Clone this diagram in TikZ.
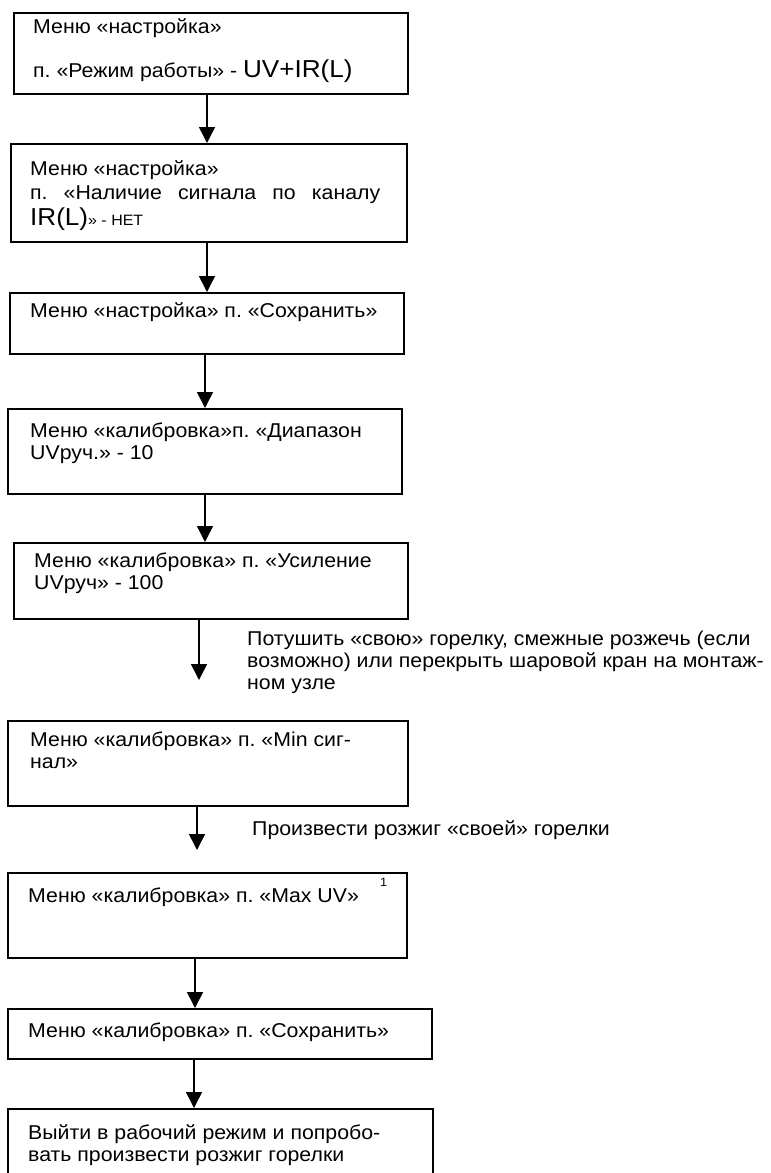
\documentclass[tikz,border=0pt]{standalone}
\usepackage{fontspec}
\setmainfont{Liberation Sans}[FakeStretch=1.065]
\usetikzlibrary{arrows.meta}
\newcommand{\fsn}{\fontsize{20}{22}\selectfont}
\newcommand{\fsbig}{\fontsize{24.5}{27}\selectfont}
\newcommand{\fssmall}{\fontsize{15}{16}\selectfont}
\newcommand{\fstiny}{\fontsize{12}{12}\selectfont}
\frenchspacing
\begin{document}
\begin{tikzpicture}[x=1pt,y=-1pt,
  box/.style={draw, line width=1.5pt, inner sep=0pt, anchor=north west},
  txt/.style={anchor=base west, inner sep=0pt, font=\fsn},
  arr/.style={-{Triangle[length=16pt,width=16pt]}, line width=1.5pt}]
\clip (0,0) rectangle (771,1173);
\fill[white] (0,0) rectangle (771,1173);
% boxes
\node[box, minimum width=394pt, minimum height=81pt] (b1) at (13,12) {};
\node[box, minimum width=396pt, minimum height=98pt] (b2) at (10,143) {};
\node[box, minimum width=394pt, minimum height=61pt] (b3) at (9,292) {};
\node[box, minimum width=394pt, minimum height=85pt] (b4) at (7,408) {};
\node[box, minimum width=394pt, minimum height=76pt] (b5) at (13,542) {};
\node[box, minimum width=400pt, minimum height=85pt] (b6) at (7,720) {};
\node[box, minimum width=399pt, minimum height=85pt] (b7) at (7,872) {};
\node[box, minimum width=424pt, minimum height=50pt] (b8) at (7,1008) {};
\node[box, minimum width=425pt, minimum height=90pt] (b9) at (7,1108) {};
% texts
\node[txt] (t1a) at (33,33) {Меню «настройка»};
\node[txt] (t1b) at (33,77) {п. «Режим работы» - {\fsbig UV+IR(L)}};
\node[txt] (t2a) at (30,175) {Меню «настройка»};
\node[txt] (t2b) at (30,199) {\makebox[350pt][s]{п. «Наличие сигнала по каналу}};
\node[txt] (t2c) at (30,225) {{\fsbig IR(L)}{\fssmall» - НЕТ}};
\node[txt] (t3) at (30,317) {Меню «настройка» п. «Сохранить»};
\node[txt] (t4a) at (30,437) {Меню «калибровка»п. «Диапазон};
\node[txt] (t4b) at (30,459) {UVруч.» - 10};
\node[txt] (t5a) at (34,567) {Меню «калибровка» п. «Усиление};
\node[txt] (t5b) at (34,589) {UVруч» - 100};
\node[txt] (l1a) at (247,645) {Потушить «свою» горелку, смежные розжечь (если};
\node[txt] (l1b) at (247,667) {возможно) или перекрыть шаровой кран на монтаж-};
\node[txt] (l1c) at (247,689) {ном узле};
\node[txt] (t6a) at (30,746) {Меню «калибровка» п. «Min сиг-};
\node[txt] (t6b) at (30,768) {нал»};
\node[txt] (l2) at (252,835) {Произвести розжиг «своей» горелки};
\node[txt] (t7) at (28,902) {Меню «калибровка» п. «Max UV»};
\node[txt, font=\fstiny] (s7) at (380,886) {1};
\node[txt] (t8) at (28,1037) {Меню «калибровка» п. «Сохранить»};
\node[txt] (t9a) at (28,1139) {Выйти в рабочий режим и попробо-};
\node[txt] (t9b) at (28,1161) {вать произвести розжиг горелки};
% arrow columns
\coordinate (c1) at (207,0);
\coordinate (c2) at (207,0);
\coordinate (c3) at (205,0);
\coordinate (c4) at (205,0);
\coordinate (e5) at (199,680);
\coordinate (e6) at (197,850);
\coordinate (c7) at (195,0);
\coordinate (c8) at (194,0);
\draw[arr] (b1.south -| c1) -- (b2.north -| c1);
\draw[arr] (b2.south -| c2) -- (b3.north -| c2);
\draw[arr] (b3.south -| c3) -- (b4.north -| c3);
\draw[arr] (b4.south -| c4) -- (b5.north -| c4);
\draw[arr] (b5.south -| e5) -- (e5);
\draw[arr] (b6.south -| e6) -- (e6);
\draw[arr] (b7.south -| c7) -- (b8.north -| c7);
\draw[arr] (b8.south -| c8) -- (b9.north -| c8);
\end{tikzpicture}
\end{document}
